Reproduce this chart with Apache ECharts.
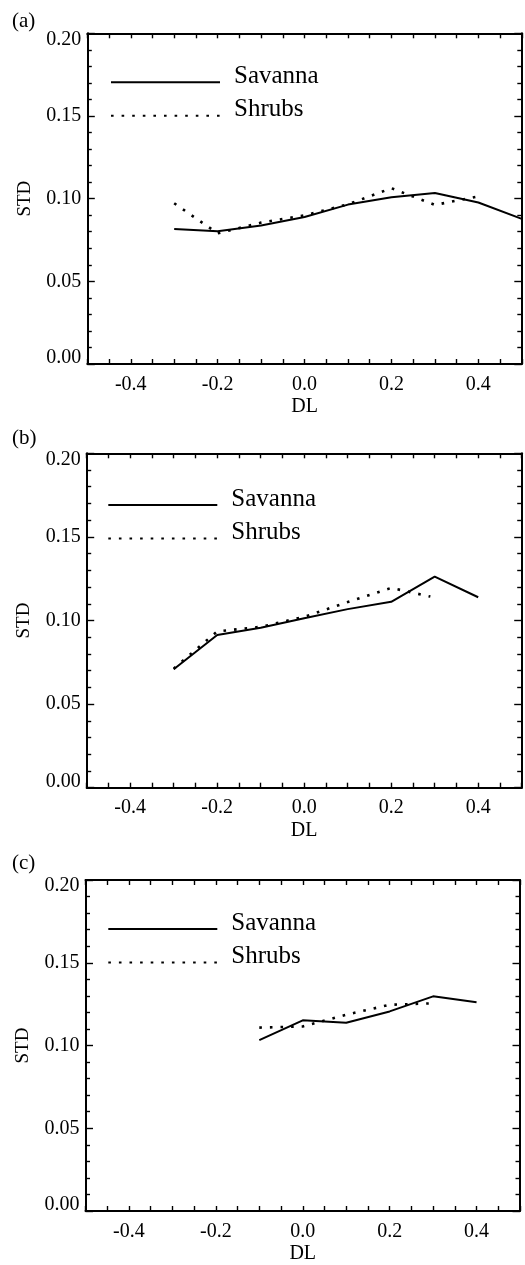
<!DOCTYPE html>
<html><head><meta charset="utf-8">
<script src="https://cdn.jsdelivr.net/npm/echarts@6/dist/echarts.min.js"></script>
<style>html,body{margin:0;padding:0;background:#fff}#c{width:525px;height:1265px}</style>
</head><body><div id="c"></div>
<script>
// ---- data ----
const panelLabels = ['(a)', '(b)', '(c)'];
const seriesNames = ['Savanna', 'Shrubs'];
const yTickLabels = ['0.00', '0.05', '0.10', '0.15', '0.20'];
const xTickLabels = ['-0.4', '-0.2', '0.0', '0.2', '0.4'];

const dlSavannaA = [-0.3, -0.2, -0.1, 0.0, 0.1, 0.2, 0.3, 0.4, 0.5];
const savannaA   = [0.0816, 0.0803, 0.0837, 0.0889, 0.0964, 0.1008, 0.1034, 0.0977, 0.0878];
const dlShrubsA  = [-0.3, -0.2, -0.1, 0.0, 0.1, 0.2, 0.3, 0.4];
const shrubsA    = [0.0972, 0.0790, 0.0855, 0.0899, 0.0966, 0.1063, 0.0962, 0.1014];

const dlSavannaB = [-0.3, -0.2, -0.1, 0.0, 0.1, 0.2, 0.3, 0.4];
const savannaB   = [0.0708, 0.0913, 0.0957, 0.1013, 0.1068, 0.1112, 0.1262, 0.1139];
const dlShrubsB  = [-0.3, -0.2, -0.1, 0.0, 0.1, 0.2, 0.29];
const shrubsB    = [0.0712, 0.0935, 0.0962, 0.1022, 0.1110, 0.1195, 0.1143];

const dlSavannaC = [-0.1, 0.0, 0.1, 0.2, 0.3, 0.4];
const savannaC   = [0.1032, 0.1152, 0.1138, 0.1206, 0.1297, 0.1261];
const dlShrubsC  = [-0.1, 0.0, 0.1, 0.2, 0.29];
const shrubsC    = [0.1108, 0.1115, 0.1186, 0.1246, 0.1254];

// ---- layout / style ----
const FONT = '"Liberation Serif", "Times New Roman", serif';
const panels = [
  {grid: {left: 87.3, top: 33.3, width: 434.5, height: 330.7}, labelTop: 10, legendLineY: 82.3, legendLeft: 110,
   sav: [dlSavannaA, savannaA], shr: [dlShrubsA, shrubsA]},
  {grid: {left: 86.7, top: 453.3, width: 435, height: 334.4}, labelTop: 427, legendLineY: 505, legendLeft: 107.3,
   sav: [dlSavannaB, savannaB], shr: [dlShrubsB, shrubsB]},
  {grid: {left: 85.5, top: 880, width: 434.5, height: 334}, labelTop: 852, legendLineY: 929, legendLeft: 107.3,
   sav: [dlSavannaC, savannaC], shr: [dlShrubsC, shrubsC]}
];

function zip(xs, ys) { return xs.map((x, i) => [x, ys[i]]); }
function xfmt(v) {
  const s = (Math.abs(v) < 1e-9 ? 0 : v).toFixed(1);
  return xTickLabels.indexOf(s) >= 0 && Math.abs(Math.round(v * 100) % 20) === 0 ? s : '';
}
function yfmt(v) {
  const s = (Math.abs(v) < 1e-9 ? 0 : v).toFixed(2);
  return yTickLabels.indexOf(s) >= 0 ? s : '';
}

const axisLine = {show: true, onZero: false, lineStyle: {color: '#000', width: 2}};
const tickStyle = {color: '#000', width: 1.4};
const option = {
  animation: false,
  backgroundColor: '#fff',
  title: [], grid: [], xAxis: [], yAxis: [], series: [], legend: []
};

panels.forEach((p, i) => {
  option.title.push({text: panelLabels[i], left: 12, top: p.labelTop, padding: 0,
    textStyle: {fontFamily: FONT, fontSize: 21, lineHeight: 22, fontWeight: 'normal', color: '#000'}});
  option.grid.push(Object.assign({containLabel: false}, p.grid));
  // bottom x
  option.xAxis.push({type: 'value', gridIndex: i, position: 'bottom', min: -0.5, max: 0.5, interval: 0.05,
    name: 'DL', nameLocation: 'middle', nameGap: 33,
    nameTextStyle: {fontFamily: FONT, fontSize: 20, color: '#000'},
    axisLine: axisLine, splitLine: {show: false},
    axisTick: {show: true, inside: true, length: 5, lineStyle: tickStyle},
    axisLabel: {show: true, margin: 10.5, formatter: xfmt, fontFamily: FONT, fontSize: 20, color: '#000'}});
  // top x (mirror)
  option.xAxis.push({type: 'value', gridIndex: i, position: 'top', min: -0.5, max: 0.5, interval: 0.05,
    axisLine: axisLine, splitLine: {show: false},
    axisTick: {show: true, inside: true, length: 5, lineStyle: tickStyle},
    axisLabel: {show: false}});
  // left y
  option.yAxis.push({type: 'value', gridIndex: i, position: 'left', min: 0, max: 0.2, interval: 0.05,
    name: 'STD', nameLocation: 'middle', nameGap: 53,
    nameTextStyle: {fontFamily: FONT, fontSize: 19, color: '#000'},
    axisLine: axisLine, splitLine: {show: false},
    axisTick: {show: true, inside: true, length: 7.5, lineStyle: tickStyle},
    minorTick: {show: true, splitNumber: 5, length: 4.5, lineStyle: tickStyle},
    axisLabel: {show: true, margin: 6, formatter: yfmt, fontFamily: FONT, fontSize: 20, lineHeight: 12,
      verticalAlignMinLabel: 'bottom', verticalAlignMaxLabel: 'top', color: '#000'}});
  // right y (mirror)
  option.yAxis.push({type: 'value', gridIndex: i, position: 'right', min: 0, max: 0.2, interval: 0.05,
    axisLine: axisLine, splitLine: {show: false},
    axisTick: {show: true, inside: true, length: 7.5, lineStyle: tickStyle},
    minorTick: {show: true, splitNumber: 5, length: 4.5, lineStyle: tickStyle},
    axisLabel: {show: false}});

  option.series.push({name: seriesNames[0], type: 'line', xAxisIndex: 2 * i, yAxisIndex: 2 * i,
    data: zip(p.sav[0], p.sav[1]), symbol: 'none', clip: false,
    lineStyle: {color: '#000', width: 2, type: 'solid'}, itemStyle: {color: '#000'}});
  option.series.push({name: seriesNames[1], type: 'line', xAxisIndex: 2 * i, yAxisIndex: 2 * i,
    data: zip(p.shr[0], p.shr[1]), symbol: 'none', clip: false,
    lineStyle: {color: '#000', width: 2.6, type: [2.6, 8]}, itemStyle: {color: '#000'}});

  option.legend.push({show: true, orient: 'vertical', left: p.legendLeft, top: p.legendLineY - 18.5, padding: 0,
    itemWidth: 109, itemHeight: 14, itemGap: -3.6, selectedMode: false,
    itemStyle: {opacity: 0},
    data: seriesNames.slice(),
    formatter: n => '{t|' + n + '}{s| }',
    textStyle: {fontFamily: FONT, fontSize: 25, color: '#000', padding: [0, 0, 0, 9],
      rich: {
        t: {fontFamily: FONT, fontSize: 25, lineHeight: 25, color: '#000', verticalAlign: 'top'},
        s: {fontSize: 2, width: 1, height: 37, lineHeight: 37}
      }}});
});

const chart = echarts.init(document.getElementById('c'), null, {renderer: 'canvas'});
chart.setOption(option);
</script>
</body></html>
